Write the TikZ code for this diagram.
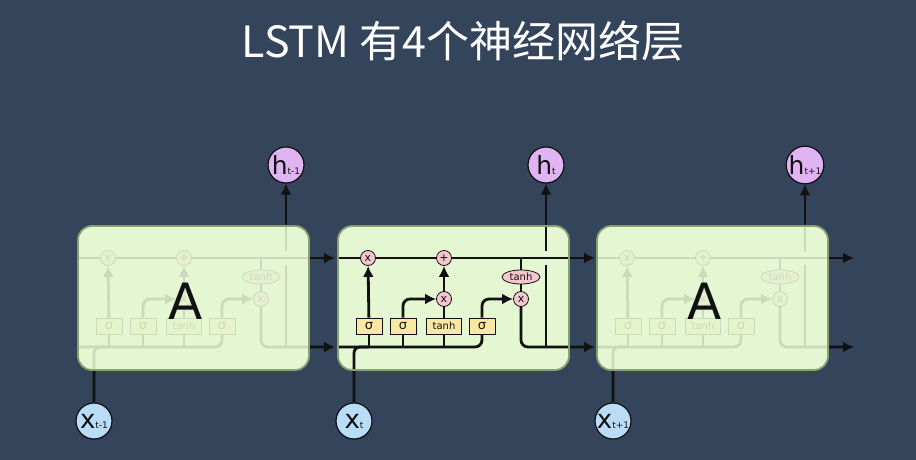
\documentclass[tikz,border=0pt]{standalone}
\usepackage{fontspec}
\setmainfont{DejaVu Sans}
\newfontfamily\cjkfont{Noto Sans CJK SC}
\usetikzlibrary{arrows.meta,calc,positioning,shapes.geometric}
\definecolor{Slate}{HTML}{34445A}
\definecolor{CellFill}{HTML}{E4F6D2}
\definecolor{CellEdge}{HTML}{87A06E}
\definecolor{GatePink}{HTML}{F4C6CF}
\definecolor{LayerGold}{HTML}{F9E8A4}
\definecolor{OutViolet}{HTML}{E0B4F2}
\definecolor{InBlue}{HTML}{B9DDF6}
\definecolor{Ink}{HTML}{111111}
\begin{document}
\begin{tikzpicture}[x=1pt,y=-1pt,every node/.style={text=Ink},wire/.style={draw=Ink,line width=2.8pt},flow/.style={wire,-{Latex[length=11pt,width=11pt]}},gate/.style={circle,draw=Ink,line width=0.8pt,fill=GatePink,minimum size=15pt,inner sep=0pt,font=\fontsize{11}{11}\selectfont},squash/.style={ellipse,draw=Ink,line width=0.8pt,fill=GatePink,minimum width=38pt,minimum height=14pt,inner sep=0pt,font=\fontsize{10}{10}\selectfont},layer/.style={rectangle,draw=Ink,line width=0.8pt,fill=LayerGold,minimum width=26pt,minimum height=16pt,inner sep=0pt,font=\fontsize{13}{13}\selectfont},hnode/.style={circle,draw=Ink,line width=1.2pt,fill=OutViolet,minimum size=36pt,inner sep=0pt},xnode/.style={hnode,fill=InBlue}]
\useasboundingbox (0,0) rectangle (916,460); \fill[Slate] (0,0) rectangle (916,460);
\node[font=\cjkfont\fontsize{43}{43}\selectfont,text=white](title) at (463,41){LSTM 有4个神经网络层};
\foreach \cx/\k/\s in {78/1/t-1,338/2/t,597/3/t+1}{
\fill[CellFill,rounded corners=14pt] (\cx,226) rectangle ++(231,144);
\coordinate (ci\k) at (\cx,258); \coordinate (co\k) at (\cx+257,258); \coordinate (hi\k) at (\cx,347); \coordinate (ho\k) at (\cx+257,347);
\node[gate](mf\k) at (\cx+30,258){x};\node[gate](ad\k) at (\cx+106,258){+};\node[gate](mi\k) at (\cx+106,299){x};\node[squash](th\k) at (\cx+183,277){tanh};\node[gate](mo\k) at (\cx+183,299){x};
\node[layer](sf\k) at (\cx+31,326){σ};\node[layer](si\k) at (\cx+65,326){σ};\node[layer,minimum width=35pt,font=\fontsize{10}{10}\selectfont](sc\k) at (\cx+106,326){tanh};\node[layer](so\k) at (\cx+144,326){σ};
\node[hnode](h\k) at (\cx+208,165){{\fontsize{25}{25}\selectfont h}{\fontsize{9}{9}\selectfont \s}};\node[xnode](xin\k) at (\cx+16,421){{\fontsize{26}{26}\selectfont x}{\fontsize{9}{9}\selectfont \s}};
\draw[wire] (ci\k) -- (mf\k) -- (ad\k); \draw[flow] (ad\k) -- (co\k); \draw[wire] (th\k |- ad\k) -- (th\k) -- (mo\k); \draw[flow,rounded corners=7pt] (mo\k.south) |- (ho\k);
\draw[wire,rounded corners=7pt] (hi\k) -| (so\k.south); \draw[wire] (sf\k.south) -- (sf\k |- hi\k); \draw[wire] (si\k.south) -- (si\k |- hi\k); \draw[wire] (sc\k.south) -- (sc\k |- hi\k);
\draw[flow] (sf\k) -- (mf\k); \draw[flow,rounded corners=7pt] (si\k.north) |- (mi\k); \draw[wire] (sc\k) -- (mi\k); \draw[flow] (mi\k) -- (ad\k); \draw[flow,rounded corners=7pt] (so\k.north) |- (mo\k);
\draw[wire] (h\k |- ho\k) -- ($(h\k |- ad\k)+(0,7)$); \draw[flow] ($(h\k |- ad\k)+(0,-7)$) -- (h\k); \draw[wire,rounded corners=6pt] (xin\k) |- (sf\k |- hi\k);
\ifnum\k=2\else \fill[CellFill,opacity=0.88,rounded corners=14pt] (\cx,226) rectangle ++(231,144); \node[font=\fontsize{50}{50}\selectfont](a\k) at (\cx+108,301){A};\fi
\draw[CellEdge,line width=1.8pt,rounded corners=14pt] (\cx,226) rectangle ++(231,144);
}
\end{tikzpicture}
\end{document}
